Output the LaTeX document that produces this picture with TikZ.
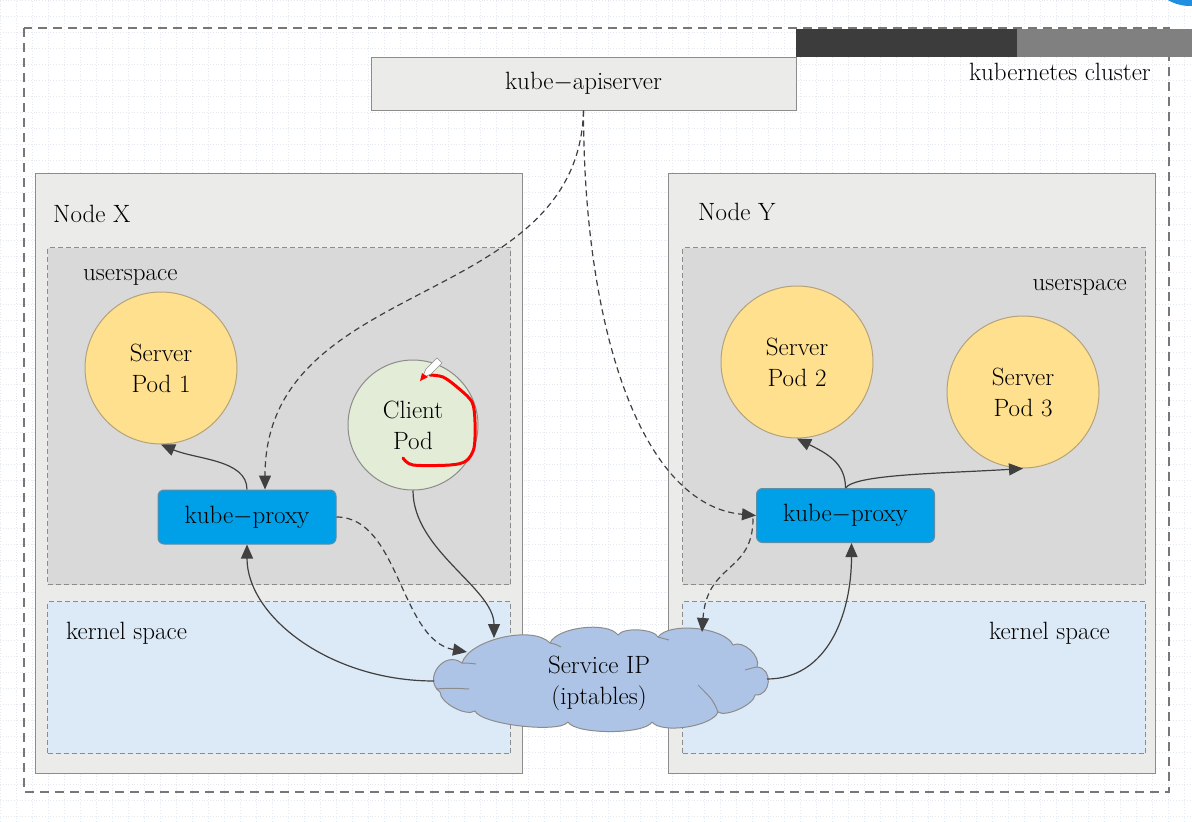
\documentclass[tikz,border=0pt]{standalone}
\usepackage{tikz}
\usetikzlibrary{arrows.meta}
\usetikzlibrary{calc}
\definecolor{gridline}{HTML}{E4E9EF}
\definecolor{clusterline}{HTML}{777777}
\definecolor{bardark}{HTML}{3C3C3C}
\definecolor{barlight}{HTML}{808080}
\definecolor{blueblob}{HTML}{1E8FE1}
\definecolor{hostline}{HTML}{8C8C8C}
\definecolor{hostfill}{HTML}{EBECEA}
\definecolor{userfill}{HTML}{D9D9D9}
\definecolor{kernfill}{HTML}{DCE9F6}
\definecolor{podfill}{HTML}{FFE08F}
\definecolor{podline}{HTML}{B4A27A}
\definecolor{clientfill}{HTML}{E2ECD7}
\definecolor{proxyfill}{HTML}{00A0E9}
\definecolor{proxyline}{HTML}{5B8EA8}
\definecolor{svcfill}{HTML}{AEC4E6}
\definecolor{flowline}{HTML}{404040}
\newcommand{\figfont}{\fontsize{25}{31}\selectfont}
\tikzset{cluster/.style={draw=clusterline, line width=2.5pt, dash pattern=on 9pt off 6pt}}
\tikzset{hostbox/.style={draw=hostline, fill=hostfill, line width=1.2pt, anchor=north west,
    minimum width=487pt, minimum height=600pt, inner sep=0pt}}
\tikzset{spacebox/.style={draw=hostline, line width=1pt, dash pattern=on 5pt off 3pt,
    anchor=north west, minimum width=463pt, inner sep=0pt}}
\tikzset{apibox/.style={draw=hostline, fill=hostfill, line width=1pt, minimum width=425pt,
    minimum height=53pt, font=\figfont}}
\tikzset{pod/.style={circle, draw=podline, line width=1pt, fill=podfill, minimum size=152pt,
    inner sep=0pt, align=center, font=\figfont}}
\tikzset{proxy/.style={draw=proxyline, line width=1pt, fill=proxyfill, rounded corners=6pt,
    minimum width=178pt, minimum height=54pt, font=\figfont}}
\tikzset{puffs/.style={draw=hostline, line width=1pt, fill=svcfill}}
\tikzset{tag/.style={font=\figfont, inner sep=0pt}}
\tikzset{flow/.style={draw=flowline, line width=1.2pt, -{Triangle[length=14pt,width=12pt]}}}
\tikzset{watch/.style={flow, dash pattern=on 6pt off 4pt}}
\tikzset{scribble/.style={draw=red, line width=3pt, line cap=round, line join=round}}

\begin{document}
\begin{tikzpicture}[x=1pt,y=-1pt]
  \useasboundingbox (0,0) rectangle (1192,822);
  \fill[white] (0,0) rectangle (1192,822);
  \draw[gridline, dotted, line width=0.8pt] (0,822) grid[xstep=16pt,ystep=16pt] (1192,0);

  % cluster frame
  \draw[cluster] (24,28) rectangle (1169,792);
  \fill[bardark] (796,29) rectangle (1017,57);
  \fill[barlight] (1017,29) rectangle (1192,57);
  \begin{scope}
    \clip (0,0) rectangle (1192,822);
    \fill[blueblob] (1190,-38) circle (44);
  \end{scope}
  \node[tag, anchor=east] (clustername) at (1151,72) {kubernetes cluster};
  \node[apibox] (api) at (583.5,83.5) {kube$-$apiserver};

  % hosts
  \foreach \hx/\ux/\id in {35/47/X, 668/682/Y} {
    \node[hostbox] (host\id) at (\hx,173) {};
    \node[spacebox, fill=userfill, minimum height=337pt] (user\id) at (\ux,247) {};
    \node[spacebox, fill=kernfill, minimum height=152pt] (kern\id) at (\ux,601) {};
  }
  \node[tag, anchor=west] (nameX) at (53,214) {Node X};
  \node[tag, anchor=west] (nameY) at (698,212) {Node Y};
  \node[tag, anchor=west] (userlabX) at (83,277) {userspace};
  \node[tag, anchor=east] (userlabY) at (1127,287) {userspace};
  \node[tag, anchor=west] (kernlabX) at (66,633) {kernel space};
  \node[tag, anchor=east] (kernlabY) at (1110,633) {kernel space};

  % pods
  \foreach \x/\y/\id/\txt in {161/368/podA/{Server\\Pod 1},
      797/362/podB/{Server\\Pod 2},
      1023/392/podC/{Server\\Pod 3}} {
    \node[pod] (\id) at (\x,\y) {\txt};
  }
  \node[pod, fill=clientfill, draw=hostline, minimum size=130pt] (client) at (413,425) {Client\\Pod};
  \node[proxy] (proxyX) at (247,517) {kube$-$proxy};
  \node[proxy] (proxyY) at (845.5,515.5) {kube$-$proxy};

  % service cloud
  \coordinate (svc) at (600,678);
  \foreach \n/\dx/\dy in {1/-138/-15, 2/-50/-35, 3/18/-43, 4/58/-41, 5/133/-33, 6/157/-11,
      7/155/17, 8/118/34, 9/52/44, 10/-32/44, 11/-125/33, 12/-160/14} {
    \coordinate (svc\n) at ($(svc)+(\dx,\dy)$);
  }
  \filldraw[puffs] (svc1) to[bend left=60, looseness=0.7] (svc2)
    to[bend left=60, looseness=0.65] (svc3) to[bend left=60, looseness=0.6] (svc4)
    to[bend left=60, looseness=0.65] (svc5) to[bend left=70, looseness=0.9] (svc6)
    to[bend left=90, looseness=1.5] (svc7) to[bend left=60, looseness=0.6] (svc8)
    to[bend left=60, looseness=0.6] (svc9) to[bend left=60, looseness=0.45] (svc10)
    to[bend left=60, looseness=0.4] (svc11) to[bend left=60, looseness=0.7] (svc12)
    to[bend left=90, looseness=1.55] (svc1) -- cycle;
  \draw[puffs, fill=none] (svc1) .. controls +(6,0) .. ++(14,1)
    (svc2) .. controls +(5,1) .. ++(11,4)
    (svc4) .. controls +(5,1) .. ++(11,3)
    (svc6) .. controls +(-5,1) .. ++(-12,3)
    (svc8) .. controls +(-5,-12) .. ++(-20,-27)
    ($(svc12)+(-4,-3)$) .. controls +(15,-1) .. ++(33,0);
  \node[tag, align=center] (svctext) at (599,683) {Service IP\\(iptables)};

  \coordinate (svcL) at ($(svc)+(-166,3)$);
  \coordinate (svcR) at ($(svc)+(167,1)$);
  \coordinate (svcA) at ($(svc)+(-106,-40)$);
  \coordinate (svcB) at ($(svc)+(-133,-26)$);
  \coordinate (svcC) at ($(svc)+(102,-46)$);

  % connectors
  \draw[flow] (proxyX.north) .. controls +(0,-30) and +(35,15) .. (podA.south);
  \draw[flow] (svcL) .. controls +(-104,0) and +(0,72) .. (proxyX.south);
  \draw[flow] (client.south) .. controls +(0,60) and +(0,-50) .. (svcA);
  \draw[watch] (proxyX.east) .. controls +(63,0) and +(-67,-12) .. (svcB);
  \draw[watch] (api.south) .. controls +(-5,200) and +(0,-215) .. ($(proxyX.north)+(18,0)$);
  \draw[watch] (api.south) .. controls +(0,220) and +(-114,-10) .. (proxyY.west);
  \draw[watch] ($(proxyY.west)+(-3,3)$) .. controls +(0,55) and +(5,-70) .. (svcC);
  \draw[flow] (svcR) .. controls +(60,0) and +(0,72) .. ($(proxyY.south)+(6,0)$);
  \draw[flow] (proxyY.north) .. controls +(0,-25) and +(30,15) .. (podB.south);
  \draw[flow] (proxyY.north) .. controls +(10,-14) and +(-80,5) .. (podC.south);

  % red mark
  \draw[scribble] plot[smooth] coordinates {(430,375) (443,377) (457,387) (472,402)
    (475,422) (474,448) (466,461) (450,465) (413,465) (403,458)};
  \draw[hostline, fill=white, line width=0.6pt] (422,378) -- (426,369) -- (437,358)
    -- (442,363) -- (431,374) -- cycle;
  \fill[red] (420,381) -- (422,373) -- (428,377) -- cycle;
\end{tikzpicture}
\end{document}
